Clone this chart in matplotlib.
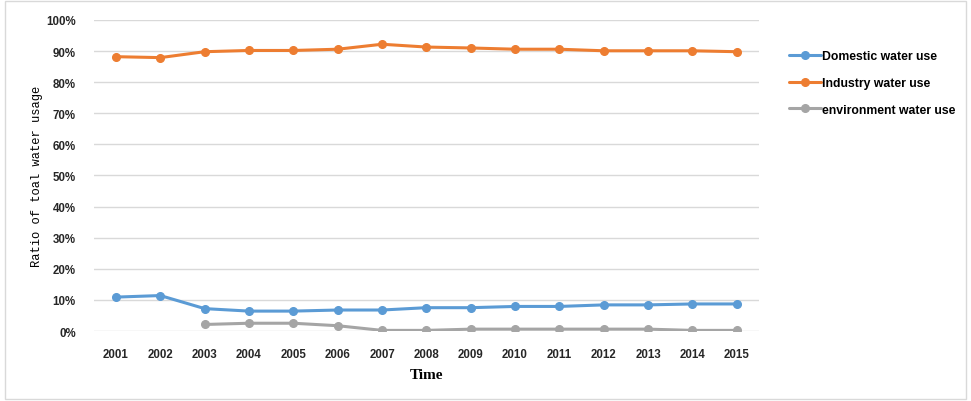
import matplotlib
matplotlib.use('Agg')
import matplotlib.pyplot as plt
from matplotlib.patches import Rectangle
from matplotlib.ticker import PercentFormatter

years = [str(y) for y in range(2001, 2016)]
domestic = [10.9, 11.4, 7.2, 6.4, 6.4, 6.75, 6.75, 7.5, 7.5, 7.9, 7.9, 8.4, 8.4, 8.7, 8.7]
industry = [88.2, 87.9, 89.8, 90.2, 90.2, 90.6, 92.2, 91.3, 91.0, 90.6, 90.6, 90.1, 90.1, 90.1, 89.8]
env_years = years[2:]
environment = [2.1, 2.5, 2.5, 1.7, 0.2, 0.2, 0.6, 0.6, 0.6, 0.6, 0.6, 0.2, 0.2]

fig = plt.figure(figsize=(9.71, 4.02), dpi=100)
ax = fig.add_axes([0.0966, 0.1741, 0.685, 0.7737])

x = list(range(len(years)))
xe = [years.index(y) for y in env_years]
kw = dict(lw=2.2, marker='o', ms=5.5, solid_capstyle='round')
ax.plot(x, [v / 100 for v in domestic], color='#5B9BD5', label='Domestic water use', **kw)
ax.plot(x, [v / 100 for v in industry], color='#ED7D31', label='Industry water use', **kw)
ax.plot(xe, [v / 100 for v in environment], color='#A5A5A5', label='environment water use', **kw)

ax.set_xlim(-0.5, len(years) - 0.5)
ax.set_ylim(0, 1)
ax.set_yticks([i / 10 for i in range(11)])
ax.yaxis.set_major_formatter(PercentFormatter(1.0, decimals=0))
ax.set_xticks(x)
ax.set_xticklabels(years)
for s in ax.spines.values():
    s.set_visible(False)
ax.grid(axis='y', color='#d9d9d9', lw=1)
ax.set_axisbelow(True)
ax.tick_params(length=0, labelsize=8.3, labelcolor='#262626')
for t in ax.get_xticklabels() + ax.get_yticklabels():
    t.set_fontfamily('Liberation Sans'); t.set_fontweight('bold')
ax.tick_params(axis='y', pad=13)
ax.tick_params(axis='x', pad=12)

ax.set_ylabel('Ratio of toal water usage', family='Liberation Mono', fontsize=8.7, labelpad=2)
ax.set_xlabel('Time', family='Liberation Serif', fontweight='bold', fontsize=11, labelpad=6)

fig.legend(loc='upper left', bbox_to_anchor=(0.801, 0.90), frameon=False,
           prop={'family': 'Liberation Sans', 'size': 8.8, 'weight': 'bold'},
           handlelength=2.6, handletextpad=0.1, labelspacing=1.2)

fig.patches.append(Rectangle((0.005, 0.005), 0.99, 0.99, transform=fig.transFigure,
                             fill=False, edgecolor='#d9d9d9', lw=1))
fig.savefig('out.png', dpi=100)
